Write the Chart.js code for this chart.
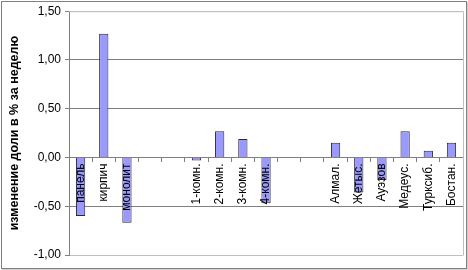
<!DOCTYPE html>
<html>
<head>
<meta charset="utf-8">
<script src="https://cdn.jsdelivr.net/npm/chart.js@4"></script>
<style>
  html, body { margin: 0; padding: 0; background: #fff; }
  #wrap { width: 468px; height: 270px; }
</style>
</head>
<body>
<div id="wrap"><canvas id="chart" width="468" height="270"></canvas></div>
<script>
// категории (пустые строки - промежутки между группами)
const categories = ['панель', 'кирпич', 'монолит', '', '',
    '1-комн.', '2-комн.', '3-комн.', '4-комн.', '', '',
    'Алмал.', 'Жетыс.', 'Ауэзов', 'Медеус.', 'Турксиб.', 'Бостан.'];
// изменение доли, %
const changes = [-0.60, 1.27, -0.67, null, null,
    -0.03, 0.27, 0.19, -0.47, null, null,
    0.15, -0.36, -0.23, 0.27, 0.07, 0.15];
const yTicks = [-1.0, -0.5, 0, 0.5, 1.0, 1.5];
const yTitle = 'изменение доли в % за неделю';

const fontFamily = '"Liberation Sans", Arial, sans-serif';

// рамки: общая рамка диаграммы и рамка области построения
const frames = {
    id: 'frames',
    afterDraw(chart) {
        const { ctx, chartArea } = chart;
        ctx.save();
        ctx.strokeStyle = '#c0c0c0';
        ctx.lineWidth = 1;
        ctx.beginPath();
        ctx.moveTo(chartArea.left, chartArea.top + 0.5);
        ctx.lineTo(Math.round(chartArea.right) + 0.5, chartArea.top + 0.5);
        ctx.lineTo(Math.round(chartArea.right) + 0.5, Math.round(chartArea.bottom) + 0.5);
        ctx.stroke();
        ctx.strokeStyle = '#808080';
        ctx.strokeRect(1.5, 1.5, chart.width - 3, chart.height - 3);
        ctx.strokeStyle = '#d0d0d0';
        ctx.beginPath();
        ctx.moveTo(chart.width - 0.5, 2);
        ctx.lineTo(chart.width - 0.5, chart.height - 0.5);
        ctx.lineTo(2, chart.height - 0.5);
        ctx.stroke();
        ctx.restore();
    }
};

new Chart(document.getElementById('chart'), {
    type: 'bar',
    data: {
        labels: categories,
        datasets: [{
            data: changes,
            backgroundColor: '#9999FF',
            borderColor: '#2a2a2a',
            borderWidth: 1,
            barPercentage: 0.4,
            categoryPercentage: 1.0
        }]
    },
    options: {
        responsive: false,
        animation: false,
        layout: { padding: { left: 3, right: 4, top: 10, bottom: 15 } },
        plugins: {
            legend: { display: false },
            tooltip: { enabled: false }
        },
        scales: {
            x: {
                position: { y: 0 },
                grid: {
                    offset: true,
                    drawOnChartArea: false,
                    drawTicks: true,
                    tickLength: 4,
                    color: '#808080',
                    z: 1
                },
                border: { display: true, color: '#808080', z: 1 },
                ticks: {
                    z: 1,
                    autoSkip: false,
                    minRotation: 90,
                    maxRotation: 90,
                    padding: 2,
                    color: '#000',
                    font: { family: fontFamily, size: 12 }
                }
            },
            y: {
                min: yTicks[0],
                max: yTicks[yTicks.length - 1],
                afterBuildTicks: (scale) => {
                    scale.ticks = yTicks.map(v => ({ value: v }));
                },
                afterFit: (scale) => { scale.width = 66; },
                grid: {
                    color: (c) => (c.tick && (c.tick.value === 1.5 || c.tick.value === -1)) ? '#c0c0c0' : '#808080',
                    tickColor: '#808080',
                    tickLength: 4
                },
                border: { display: true, color: '#808080' },
                ticks: {
                    padding: 4,
                    color: '#000',
                    font: { family: fontFamily, size: 12 },
                    callback: (v) => v.toFixed(2).replace('.', ',')
                },
                title: {
                    display: true,
                    text: yTitle,
                    color: '#000',
                    padding: { top: 4, bottom: 0 },
                    font: { family: fontFamily, size: 12.5, weight: 'bold' }
                }
            }
        }
    },
    plugins: [frames]
});
</script>
</body>
</html>
